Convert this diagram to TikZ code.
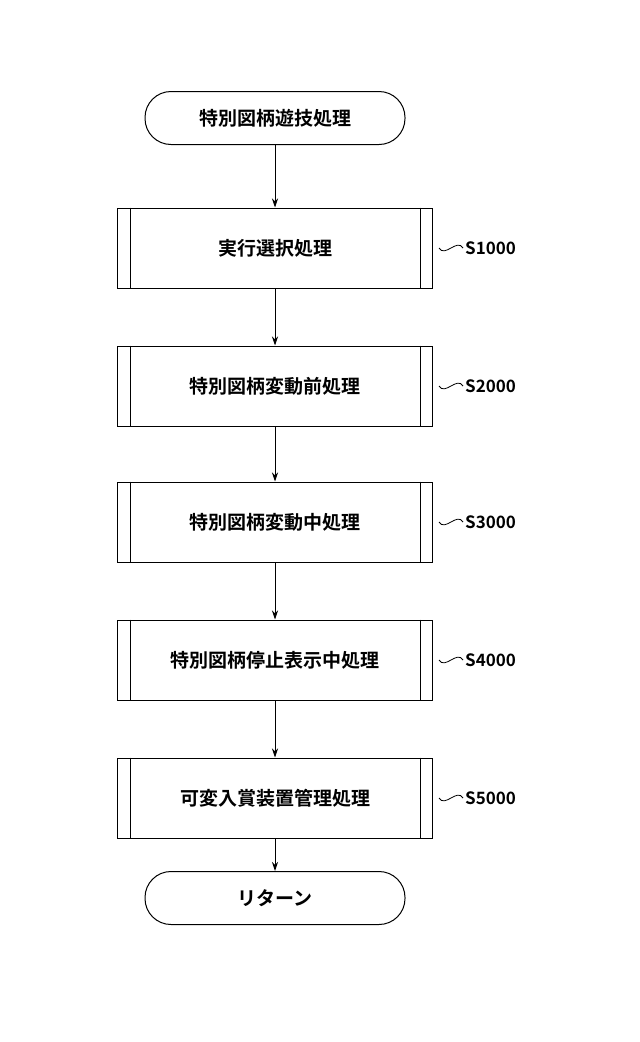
\documentclass[tikz,border=0pt]{standalone}
\usepackage{fontspec}
\usetikzlibrary{arrows.meta}
\newfontfamily\jp{Noto Sans CJK JP Bold}
\begin{document}
\begin{tikzpicture}[x=1pt,y=-1pt,
  term/.style={draw,line width=1pt,rounded corners=26pt,minimum width=260pt,minimum height=53pt,font=\jp\fontsize{19}{19}\selectfont},
  proc/.style={draw,line width=1pt,minimum width=315pt,minimum height=80pt,font=\jp\fontsize{19}{19}\selectfont},
  arr/.style={-{Stealth[length=9pt,width=6pt]},line width=1pt},
  lab/.style={font=\jp\fontsize{17}{17}\selectfont,anchor=west,inner sep=0pt}]
\useasboundingbox (0,0) rectangle (640,1042);
\node[term] (start) at (275,118) {特別図柄遊技処理};
\node[proc] (b1) at (275,248) {実行選択処理};
\node[proc] (b2) at (275,386) {特別図柄変動前処理};
\node[proc] (b3) at (275,522) {特別図柄変動中処理};
\node[proc] (b4) at (275,660) {特別図柄停止表示中処理};
\node[proc] (b5) at (275,798) {可変入賞装置管理処理};
\node[term] (end) at (275,898) {リターン};
\foreach \b/\s in {b1/1000,b2/2000,b3/3000,b4/4000,b5/5000}{
  \draw[line width=0.8pt] ([xshift=13pt]\b.north west) -- ([xshift=13pt]\b.south west);
  \draw[line width=0.8pt] ([xshift=-13pt]\b.north east) -- ([xshift=-13pt]\b.south east);
  \coordinate (\b a) at ([xshift=6pt]\b.east);
  \coordinate (\b z) at ([xshift=30pt]\b.east);
  \draw[line width=0.8pt] (\b a) .. controls ([xshift=6pt,yshift=-10pt]\b a) and ([xshift=-6pt,yshift=10pt]\b z) .. (\b z);
  \node[lab] (\b l) at ([xshift=2pt]\b z) {S\s};
}
\draw[arr] (start) -- (b1);
\draw[arr] (b1) -- (b2);
\draw[arr] (b2) -- (b3);
\draw[arr] (b3) -- (b4);
\draw[arr] (b4) -- (b5);
\draw[arr] (b5) -- (end);
\end{tikzpicture}
\end{document}
